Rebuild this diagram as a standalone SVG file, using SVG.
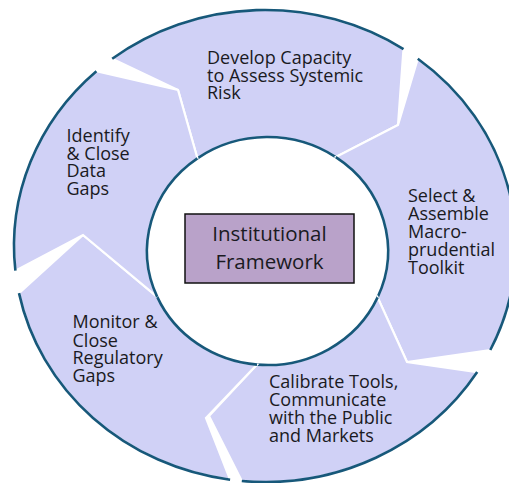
<svg xmlns="http://www.w3.org/2000/svg" width="509" height="483" viewBox="0 0 509 483">
<style>
.seg{fill:#d0d1f6;stroke:#ffffff;stroke-width:2.2;stroke-linejoin:miter}
.rim{fill:none;stroke:#17587a;stroke-width:2.6}
.lbl{font-family:"Open Sans","Noto Sans","DejaVu Sans",sans-serif;font-size:18px;fill:#1a1a22}
.ctr{font-family:"Open Sans","Noto Sans","DejaVu Sans",sans-serif;font-size:20.5px;fill:#1a1a22;text-anchor:middle}
</style>
<rect width="509" height="483" fill="#ffffff"/>
<g id="develop">
<path class="seg" d="M112.2,58.8 A251,236 0 0 1 403.5,49.2 L398,125 L335.8,157.1 A120.5,114 0 0 0 197.4,158.3 L178,90 Z"/>
<path class="rim" d="M112.2,58.8 A251,236 0 0 1 403.5,49.2"/>
<path class="rim" d="M335.8,157.1 A120.5,114 0 0 0 197.4,158.3"/>
<text class="lbl" x="207" y="64">Develop Capacity</text>
<text class="lbl" x="207" y="81.5">to Assess Systemic</text>
<text class="lbl" x="207" y="99">Risk</text>
</g>
<g id="select">
<path class="seg" d="M417.8,58.8 A251,236 0 0 1 490.3,350 L407,362 L377.6,297.4 A120.5,114 0 0 0 335.8,157.1 L398,125 Z"/>
<path class="rim" d="M417.8,58.8 A251,236 0 0 1 490.3,350"/>
<path class="rim" d="M377.6,297.4 A120.5,114 0 0 0 335.8,157.1"/>
<text class="lbl" x="408" y="202.3">Select &amp;</text>
<text class="lbl" x="408" y="220">Assemble</text>
<text class="lbl" x="408" y="237.7">Macro-</text>
<text class="lbl" x="408" y="256">prudential</text>
<text class="lbl" x="408" y="274">Toolkit</text>
</g>
<g id="calibrate">
<path class="seg" d="M477.2,372.1 A251,236 0 0 1 241.8,481 L209,416 L257,364.6 A120.5,114 0 0 0 377.6,297.4 L407,362 Z"/>
<path class="rim" d="M477.2,372.1 A251,236 0 0 1 241.8,481"/>
<path class="rim" d="M257,364.6 A120.5,114 0 0 0 377.6,297.4"/>
<text class="lbl" x="269" y="388.3">Calibrate Tools,</text>
<text class="lbl" x="269" y="406">Communicate</text>
<text class="lbl" x="269" y="424">with the Public</text>
<text class="lbl" x="269" y="441.7">and Markets</text>
</g>
<g id="monitor">
<path class="seg" d="M230.1,479.7 A251,236 0 0 1 19,293.1 L83,235 L157.2,296.9 A120.5,114 0 0 0 257,364.6 L206,418 Z"/>
<path class="rim" d="M230.1,479.7 A251,236 0 0 1 19,293.1"/>
<path class="rim" d="M157.2,296.9 A120.5,114 0 0 0 257,364.6"/>
<text class="lbl" x="72.5" y="328.3">Monitor &amp;</text>
<text class="lbl" x="72.5" y="346.7">Close</text>
<text class="lbl" x="72.5" y="364">Regulatory</text>
<text class="lbl" x="72.5" y="381.7">Gaps</text>
</g>
<g id="identify">
<path class="seg" d="M15.4,270.7 A251,236 0 0 1 96.4,71.2 L178,90 L197.4,158.3 A120.5,114 0 0 0 157.2,296.9 L83,235 Z"/>
<path class="rim" d="M15.4,270.7 A251,236 0 0 1 96.4,71.2"/>
<path class="rim" d="M197.4,158.3 A120.5,114 0 0 0 157.2,296.9"/>
<text class="lbl" x="66.5" y="141.7">Identify</text>
<text class="lbl" x="66.5" y="160">&amp; Close</text>
<text class="lbl" x="66.5" y="177.3">Data</text>
<text class="lbl" x="66.5" y="195">Gaps</text>
</g>
<g id="institutional-framework">
<rect x="185" y="214" width="169" height="69" fill="#b9a2c9" stroke="#111111" stroke-width="1.5"/>
<text class="ctr" x="269.5" y="240.7">Institutional</text>
<text class="ctr" x="269.5" y="269.3">Framework</text>
</g>
<g id="connectors"></g>
</svg>
